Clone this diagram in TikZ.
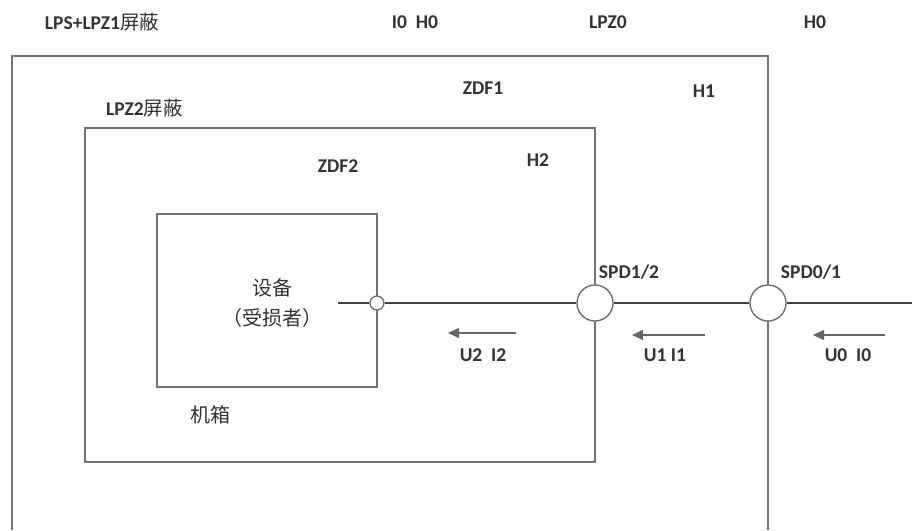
\documentclass[tikz,border=0pt]{standalone}
\usepackage{fontspec}
\setmainfont{Carlito}
\newfontfamily\cjk{Noto Sans CJK SC}
\usetikzlibrary{arrows.meta,positioning}

\begin{document}
\begin{tikzpicture}[
  x=1pt, y=-1pt,
  zone/.style={draw=black!55, line width=1.7pt},
  wire/.style={draw=black!75, line width=1.4pt},
  spd/.style={circle, draw=black!60, fill=white, line width=1.3pt, minimum size=36pt, inner sep=0pt},
  port/.style={circle, draw=black!60, fill=white, line width=1.2pt, minimum size=14pt, inner sep=0pt},
  flow/.style={draw=black!60, line width=1.6pt, -{Triangle[length=11pt,width=10pt]}},
  lab/.style={font=\fontsize{19.5}{22}\selectfont\bfseries, text=black!80, inner sep=0pt},
  zh/.style={font=\fontsize{20}{24}\selectfont\cjk, text=black!80, inner sep=0pt, align=center}
]
  \useasboundingbox (0,0) rectangle (912,530);

  % shielding zones
  \draw[zone] (12,530) |- (768,56) -- (768,530);
  \draw[zone] (85,128) rectangle (595,462);
  \draw[zone] (157,214) rectangle (377,387);

  % line with surge protective devices
  \coordinate (lineL) at (338,303);
  \coordinate (lineR) at (912,303);
  \node[port] (dev) at (377,303) {};
  \node[spd] (spd12) at (595,303) {};
  \node[spd] (spd01) at (768,303) {};
  \draw[wire] (lineL) -- (dev) -- (spd12) -- (spd01) -- (lineR);

  % surge direction
  \foreach \tail/\tip/\y in {516/448/333, 705/632/335, 885/813/335} {
    \draw[flow] (\tail,\y) -- (\tip,\y);
  }

  % labels
  \node[lab] (lps) at (102,22) {LPS+LPZ1{\cjk\mdseries 屏蔽}};
  \node[lab] (ih0) at (415,22) {I0\ \ H0};
  \node[lab] (lpz0) at (608,22) {LPZ0};
  \node[lab] (h0) at (815,22) {H0};
  \node[lab] (zdf1) at (483,88) {ZDF1};
  \node[lab] (h1) at (704,91) {H1};
  \node[lab, anchor=west] (lpz2) at (106,108) {LPZ2{\cjk\mdseries 屏蔽}};
  \node[lab] (zdf2) at (338,166) {ZDF2};
  \node[lab] (h2) at (538,160) {H2};
  \node[lab] (n12) at (629,272) {SPD1/2};
  \node[lab] (n01) at (811,272) {SPD0/1};
  \node[lab] (ui2) at (483,355) {U2\ \ I2};
  \node[lab] (ui1) at (665,355) {U1 I1};
  \node[lab] (ui0) at (848,355) {U0\ \ I0};
  \node[zh] (devA) at (272,288) {设备};
  \node[zh] (devB) at (272,318) {（受损者）};
  \node[zh] (box) at (210,415) {机箱};
\end{tikzpicture}
\end{document}
